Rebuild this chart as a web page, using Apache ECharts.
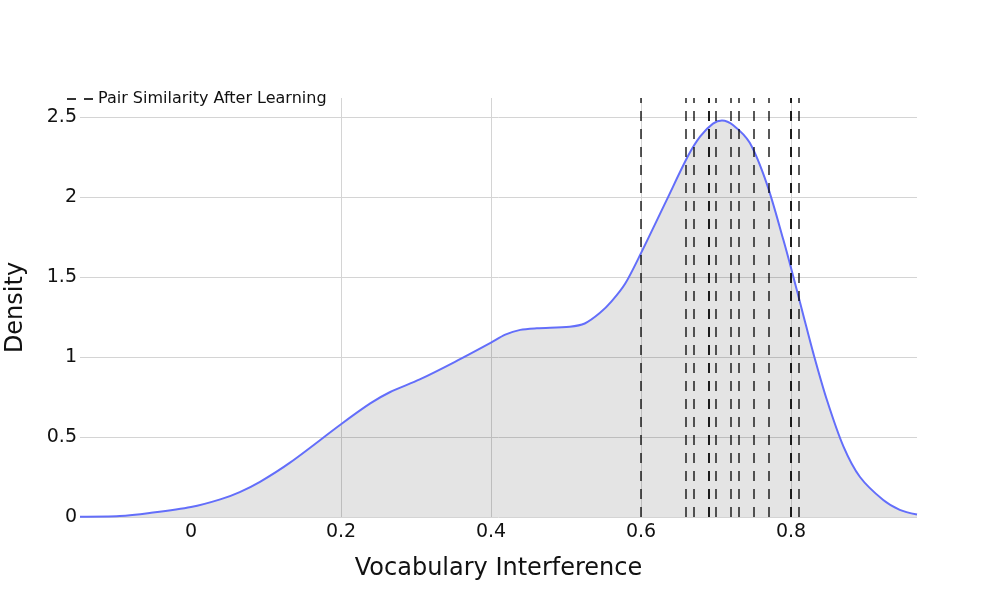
<!DOCTYPE html>
<html>
<head>
<meta charset="utf-8">
<script src="https://cdn.jsdelivr.net/npm/echarts@6/dist/echarts.min.js"></script>
<style>
  html, body { margin: 0; padding: 0; background: #fff; }
  #chart-container { width: 997px; height: 598px; }
</style>
</head>
<body>
<div id="chart-container"></div>
<script>
// density curve
var densityX = [-0.148, -0.095, -0.055, 0, 0.039, 0.065, 0.092, 0.132, 0.2, 0.239, 0.265,
  0.305, 0.352, 0.4, 0.419, 0.439, 0.461, 0.505, 0.525, 0.545, 0.561, 0.579, 0.6,
  0.634, 0.663, 0.679, 0.696, 0.708, 0.723, 0.745, 0.768, 0.79, 0.801, 0.816, 0.83,
  0.848, 0.87, 0.892, 0.923, 0.945, 0.968];
var densityY = [0.002, 0.006, 0.025, 0.062, 0.11, 0.156, 0.22, 0.34, 0.58, 0.71, 0.78,
  0.86, 0.97, 1.09, 1.14, 1.17, 1.18, 1.19, 1.21, 1.275, 1.35, 1.46, 1.65,
  1.98, 2.26, 2.38, 2.46, 2.48, 2.45, 2.34, 2.08, 1.73, 1.54, 1.27, 1.02,
  0.73, 0.44, 0.25, 0.106, 0.045, 0.015];
// pair similarity after learning (vertical dashed lines)
var pairSimilarity = [0.601, 0.663, 0.671, 0.689, 0.694, 0.7, 0.717, 0.727, 0.746,
  0.768, 0.796, 0.801, 0.814];
var xLabels = [0, 0.2, 0.4, 0.6, 0.8];
var xGrid = [0.2, 0.4, 0.6, 0.8];
var yTicks = [0, 0.5, 1, 1.5, 2, 2.5];

var dom = document.getElementById("chart-container");
var myChart = echarts.init(dom, null, { renderer: "canvas" });
var font = "DejaVu Sans";

var curve = densityX.map(function (x, i) { return [x, densityY[i]]; });

var option = {
  animation: false,
  textStyle: { fontFamily: font },
  grid: { left: 80, right: 80, top: 98, bottom: 81, containLabel: false, outerBoundsMode: "none" },
  legend: {
    left: 62, top: 86,
    itemWidth: 26, itemHeight: 2, itemGap: 8,
    textStyle: { fontFamily: font, fontSize: 16, color: "#111" },
    data: [{
      name: "Pair Similarity After Learning",
      icon: "path://M0,0 L9,0 L9,2 L0,2 Z M17,0 L26,0 L26,2 L17,2 Z",
      itemStyle: { color: "#333" }
    }]
  },
  xAxis: {
    type: "value",
    min: -0.148, max: 0.968,
    name: "Vocabulary Interference",
    nameLocation: "middle", nameGap: 40,
    nameTextStyle: { fontFamily: font, fontSize: 24, color: "#111" },
    axisLine: { show: false },
    axisTick: { show: false, customValues: xGrid },
    axisLabel: { customValues: xLabels, margin: 6, fontSize: 19, color: "#111", fontFamily: font },
    splitLine: { show: true, lineStyle: { color: "#d4d4d4", width: 1 } }
  },
  yAxis: {
    type: "value",
    min: 0, max: 2.62,
    name: "Density",
    nameLocation: "middle", nameGap: 52,
    nameTextStyle: { fontFamily: font, fontSize: 24, color: "#111" },
    axisLine: { show: false },
    axisTick: { show: false, customValues: yTicks },
    axisLabel: { customValues: yTicks, margin: 3, fontSize: 19, color: "#111", fontFamily: font },
    splitLine: { show: true, lineStyle: { color: "#d4d4d4", width: 1 } }
  },
  series: [
    {
      type: "line",
      name: "density",
      data: curve,
      smooth: 0.3,
      showSymbol: false,
      lineStyle: { color: "#636efa", width: 2 },
      areaStyle: { color: "rgba(0,0,0,0.105)", opacity: 1 },
      z: 2
    },
    {
      type: "line",
      name: "Pair Similarity After Learning",
      data: [],
      showSymbol: false,
      symbol: "none",
      itemStyle: { color: "#333" },
      lineStyle: { color: "#333", width: 2, type: [9, 8] },
      markLine: {
        silent: true,
        symbol: ["none", "none"],
        label: { show: false },
        lineStyle: { color: "rgba(0,0,0,0.72)", width: 1.8, type: [10, 8] },
        data: pairSimilarity.map(function (v) { return { xAxis: v }; })
      },
      z: 3
    }
  ]
};

myChart.setOption(option);
window.addEventListener("resize", myChart.resize);
</script>
</body>
</html>
